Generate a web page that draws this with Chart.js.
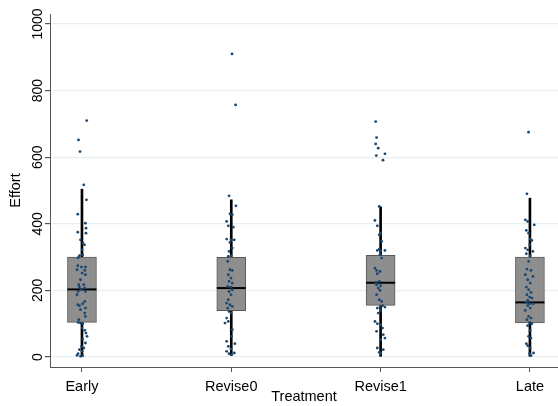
<!DOCTYPE html>
<html>
<head>
<meta charset="utf-8">
<script src="https://cdn.jsdelivr.net/npm/chart.js@4"></script>
<style>
  body { margin: 0; background: #fff; }
  #wrap { width: 558px; height: 406px; }
</style>
</head>
<body>
<div id="wrap"><canvas id="myChart" width="558" height="406"></canvas></div>
<script>
  var groups = ["Early", "Revise0", "Revise1", "Late"];
  var yTicks = [0, 200, 400, 600, 800, 1000];

  // box stats per group: lower whisker, q1, median, q3, upper whisker
  var whiskLo = [1, 4, 2, 2];
  var q1 = [104, 139, 155, 102];
  var median = [203, 207, 223, 164];
  var q3 = [300, 299, 305, 300];
  var whiskHi = [504, 472, 451, 477];

  // jittered observations (effort value, horizontal jitter in category units)
  var earlyY = [710, 652, 617, 517, 472, 429, 402, 387, 375, 372, 352, 342, 337, 322, 307, 304, 298, 274, 270, 270, 262, 260, 252, 247, 232, 217, 217, 210, 207, 202, 197, 197, 187, 167, 160, 157, 154, 147, 142, 132, 122, 112, 104, 102, 100, 87, 80, 72, 62, 54, 42, 32, 27, 22, 17, 10, 5, 4, 2];
  var earlyJ = [0.032, -0.023, -0.013, 0.012, 0.030, -0.028, 0.023, 0.027, -0.028, 0.027, -0.010, 0.007, 0.017, 0.001, 0.005, -0.017, -0.026, -0.028, -0.003, 0.023, -0.033, 0.019, 0.001, 0.023, -0.010, -0.021, 0.012, -0.017, 0.019, -0.003, -0.026, 0.023, -0.033, 0.019, 0.005, -0.028, -0.017, 0.023, -0.010, 0.019, 0.023, -0.021, -0.026, -0.010, 0.005, 0.001, 0.019, 0.027, 0.034, 0.005, 0.023, -0.003, 0.012, -0.017, 0.001, -0.026, -0.033, 0.005, -0.010];

  var revise0Y = [910, 757, 484, 454, 430, 427, 407, 394, 390, 354, 352, 352, 344, 327, 317, 304, 302, 287, 262, 260, 247, 237, 227, 222, 212, 210, 202, 197, 187, 172, 162, 157, 152, 147, 137, 132, 117, 107, 102, 82, 62, 47, 40, 32, 24, 17, 12, 10, 7];
  var revise0J = [0.005, 0.029, -0.015, 0.031, -0.009, 0.007, -0.031, -0.020, 0.013, -0.031, -0.002, 0.020, -0.009, 0.007, -0.015, -0.002, -0.020, -0.024, -0.009, 0.007, -0.020, -0.002, -0.015, 0.007, -0.024, -0.002, 0.007, -0.015, -0.002, -0.020, -0.031, -0.009, 0.007, -0.024, -0.015, -0.002, -0.031, -0.020, -0.042, 0.007, 0.002, -0.031, 0.024, -0.020, -0.002, -0.031, 0.020, -0.015, 0.002];

  var revise1Y = [707, 659, 640, 627, 610, 605, 591, 452, 410, 394, 372, 367, 347, 324, 320, 317, 320, 307, 297, 267, 260, 257, 250, 224, 227, 217, 214, 207, 200, 187, 172, 167, 154, 150, 147, 150, 140, 132, 107, 100, 97, 87, 77, 67, 57, 52, 27, 22, 14, 10];
  var revise1J = [-0.033, -0.027, -0.033, -0.016, 0.029, -0.029, 0.016, -0.009, -0.038, -0.022, 0, -0.009, 0.007, -0.009, -0.022, 0, 0.029, -0.004, 0.007, -0.038, -0.027, -0.004, -0.022, -0.031, -0.009, -0.027, 0, -0.016, -0.004, -0.027, -0.009, 0.007, 0.013, -0.004, -0.022, 0.029, 0, -0.016, -0.038, -0.022, 0, 0.013, -0.027, 0.018, 0.029, 0, -0.022, 0.018, -0.009, 0];

  var lateY = [675, 490, 412, 407, 397, 380, 372, 354, 350, 337, 327, 322, 317, 310, 304, 287, 264, 260, 247, 242, 232, 222, 210, 202, 194, 187, 180, 177, 170, 164, 160, 160, 154, 147, 140, 122, 117, 112, 104, 100, 94, 80, 62, 57, 40, 34, 27, 12, 10, 4];
  var lateJ = [-0.009, -0.020, -0.031, -0.015, 0.029, -0.024, -0.009, 0.002, 0.013, -0.002, -0.031, -0.015, 0.020, -0.024, 0.002, -0.009, -0.020, 0.007, -0.031, 0.020, -0.015, 0.002, -0.024, -0.009, 0.007, -0.020, -0.002, 0.013, -0.015, -0.024, -0.002, 0.020, -0.015, 0.002, -0.031, -0.009, 0.007, -0.020, -0.002, 0.013, -0.015, 0.002, -0.009, 0.007, -0.024, -0.015, 0.002, 0.024, -0.002, 0.007];

  var obsY = [earlyY, revise0Y, revise1Y, lateY];
  var obsJ = [earlyJ, revise0J, revise1J, lateJ];

  var fontFam = "'Liberation Sans', Arial, sans-serif";

  var points = [];
  for (var g = 0; g < obsY.length; g++) {
    for (var i = 0; i < obsY[g].length; i++) {
      points.push({ x: g + obsJ[g][i], y: obsY[g][i] });
    }
  }

  var whiskData = [], boxData = [], medData = [];
  for (var k = 0; k < groups.length; k++) {
    whiskData.push({ x: k, y: [whiskLo[k], whiskHi[k]] });
    boxData.push({ x: k, y: [q1[k], q3[k]] });
    medData.push({ x: k, y: median[k] });
  }

  var ctx = document.getElementById("myChart").getContext("2d");
  var chart = new Chart(ctx, {
    data: {
      datasets: [
        {
          type: "bar", data: whiskData, order: 4, grouped: false,
          barThickness: 2, backgroundColor: "#000", borderWidth: 0
        },
        {
          type: "bar", data: boxData, order: 3, grouped: false,
          barThickness: 29, backgroundColor: "#8e8e8e",
          borderColor: "#595959", borderWidth: 1, borderSkipped: false
        },
        {
          type: "scatter", data: medData, order: 2,
          pointStyle: "line", pointRadius: 14.5, borderWidth: 2,
          borderColor: "#000", backgroundColor: "#000"
        },
        {
          type: "scatter", data: points, order: 1,
          pointRadius: 1.4, borderWidth: 0,
          backgroundColor: "#1a476f"
        }
      ]
    },
    options: {
      responsive: false,
      animation: false,
      layout: { autoPadding: false, padding: { top: 14, right: 0, left: 0, bottom: 0 } },
      plugins: { legend: { display: false }, tooltip: { enabled: false } },
      scales: {
        x: {
          type: "linear",
          min: -0.214, max: 3.188,
          offset: false,
          afterBuildTicks: function(scale) {
            scale.ticks = groups.map(function(n, i) { return { value: i }; });
          },
          afterFit: function(scale) {
            scale.height = 39;
            scale.paddingLeft = 0;
            scale.paddingRight = 0;
          },
          ticks: {
            callback: function(v) { return groups[v]; },
            color: "#000", padding: 6,
            font: { family: fontFam, size: 14.5 },
            maxRotation: 0
          },
          grid: { drawOnChartArea: false, offset: false, tickLength: 5, tickColor: "#555" },
          border: { color: "#555", width: 1 },
          title: {
            display: true, text: "Treatment", color: "#000",
            font: { family: fontFam, size: 14.5 }, padding: { top: -4, bottom: 0 }
          }
        },
        y: {
          min: -30, max: 1030,
          afterBuildTicks: function(scale) {
            scale.ticks = yTicks.map(function(v) { return { value: v }; });
          },
          afterFit: function(scale) {
            scale.width = 50;
            scale.paddingTop = 0;
            scale.paddingBottom = 0;
          },
          ticks: {
            callback: function(v) { return String(v); },
            color: "#000", minRotation: 90, maxRotation: 90,
            crossAlign: "center", padding: -9,
            font: { family: fontFam, size: 14 }
          },
          grid: { color: "#e6eff1", lineWidth: 1.2, tickLength: 5, tickColor: "#555" },
          border: { color: "#555", width: 1 },
          title: {
            display: true, text: "Effort", color: "#000",
            font: { family: fontFam, size: 14.5 }, padding: { top: 7, bottom: 0 }
          }
        }
      }
    }
  });
</script>
</body>
</html>
